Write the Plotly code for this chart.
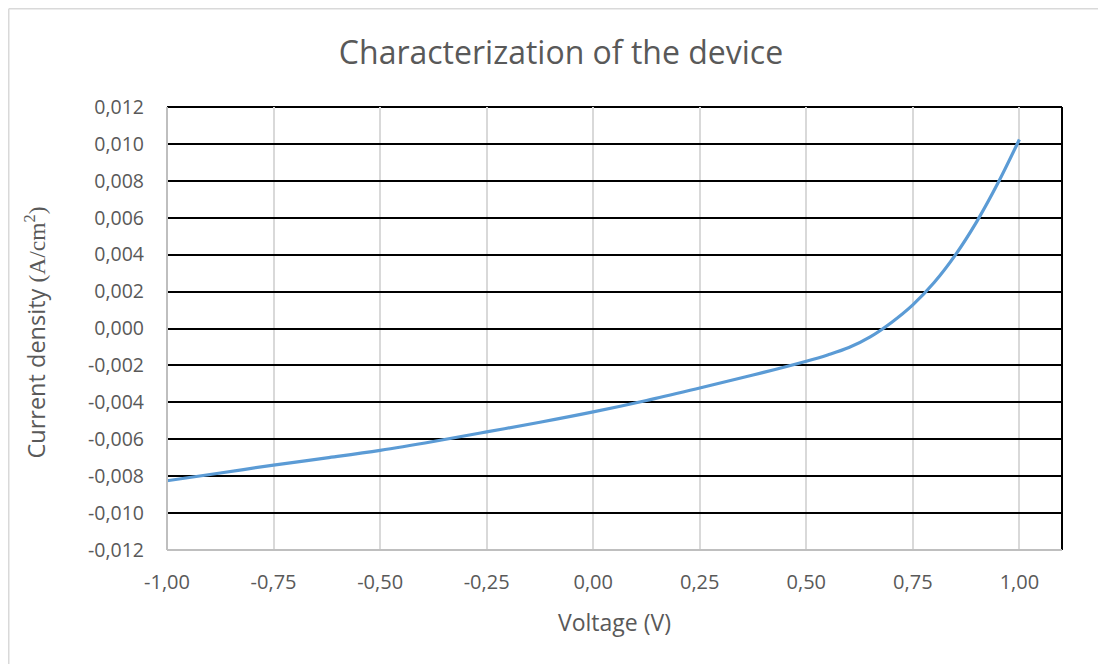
import plotly.graph_objects as go

voltage = [-1.00, -0.875, -0.75, -0.625, -0.50, -0.375, -0.25, -0.125,
           0.00, 0.125, 0.25, 0.375, 0.50, 0.55, 0.60, 0.65, 0.70, 0.75,
           0.80, 0.85, 0.90, 0.95, 1.00]
current_density = [-0.00825, -0.00783, -0.0074, -0.00701, -0.0066, -0.00612, -0.0056, -0.00508,
                   -0.00452, -0.0039, -0.00322, -0.00252, -0.00177, -0.00143, -0.00103, -0.00045, 0.00033, 0.00128,
                   0.00249, 0.00399, 0.00579, 0.00789, 0.01024]

x_tick_vals = [-1.0, -0.75, -0.5, -0.25, 0.0, 0.25, 0.5, 0.75, 1.0]
x_tick_text = ["-1,00", "-0,75", "-0,50", "-0,25", "0,00", "0,25", "0,50", "0,75", "1,00"]
y_tick_vals = [-0.012, -0.010, -0.008, -0.006, -0.004, -0.002, 0.0, 0.002, 0.004, 0.006, 0.008, 0.010, 0.012]
y_tick_text = ["-0,012", "-0,010", "-0,008", "-0,006", "-0,004", "-0,002", "0,000",
               "0,002", "0,004", "0,006", "0,008", "0,010", "0,012"]

title_text = "Characterization of the device"
x_title = "Voltage (V)"
y_title = ('Current density <span style="font-family:\'Liberation Serif\', serif">(A/cm<sup>2</sup>)</span>')

TXT = "#595959"
GRID_V = "#d9d9d9"

# figure sits inside an 8px page margin
W, H = 1098, 656
ML, MR, MT, MB = 159, 44, 99, 114
PW, PH = W - ML - MR, H - MT - MB

fig = go.Figure()
fig.add_trace(go.Scatter(
    x=voltage, y=current_density, mode="lines",
    line=dict(color="#5b9bd5", width=3.2, shape="spline", smoothing=1.0),
    showlegend=False, hoverinfo="x+y",
))

fig.update_layout(
    width=W, height=H,
    margin=dict(l=ML, r=MR, t=MT, b=MB),
    paper_bgcolor="white", plot_bgcolor="white",
    title=dict(text=title_text, x=553 / W, xref="container", xanchor="center",
               y=1 - 45 / H, yref="container", yanchor="middle",
               font=dict(family="Open Sans, sans-serif", size=32, color=TXT)),
    font=dict(family="Open Sans, sans-serif", color=TXT),
    xaxis=dict(
        range=[-1.0, 1.1], tickvals=x_tick_vals, ticktext=x_tick_text,
        showgrid=True, gridcolor=GRID_V, gridwidth=2,
        zeroline=False, showline=False, ticks="",
        tickfont=dict(family="Open Sans, sans-serif", size=20, color=TXT),
        ticklabelstandoff=18,
    ),
    yaxis=dict(
        range=[-0.012, 0.012], tickvals=y_tick_vals, ticktext=y_tick_text,
        showgrid=True, gridcolor="black", gridwidth=2,
        zeroline=False, showline=False, ticks="",
        tickfont=dict(family="Open Sans, sans-serif", size=19.5, color=TXT),
        ticklabelstandoff=22,
    ),
    annotations=[
        dict(text=x_title, xref="paper", yref="paper", x=0.5, y=0, yanchor="middle",
             xanchor="center", yshift=-72, showarrow=False,
             font=dict(family="Open Sans, sans-serif", size=23, color=TXT)),
        dict(text=y_title, xref="paper", yref="paper", x=0, y=0.5, xanchor="center",
             yanchor="middle", xshift=-(ML - 27), yshift=-4, textangle=-90, showarrow=False,
             font=dict(family="Open Sans, sans-serif", size=23.5, color=TXT)),
    ],
    shapes=[
        # plot frame: gray left/bottom, black top/right
        dict(type="line", xref="paper", yref="paper", x0=0, x1=0, y0=0, y1=1,
             line=dict(color="#bfbfbf", width=2), layer="above"),
        dict(type="line", xref="paper", yref="paper", x0=0, x1=1, y0=0, y1=0,
             line=dict(color="#bfbfbf", width=2), layer="above"),
        dict(type="line", xref="paper", yref="paper", x0=0, x1=1, y0=1, y1=1,
             line=dict(color="black", width=2), layer="below"),
        dict(type="line", xref="paper", yref="paper", x0=1, x1=1, y0=0, y1=1,
             line=dict(color="black", width=2), layer="below"),
        # outer chart border (top and left)
        dict(type="line", xref="paper", yref="paper",
             x0=(0.75 - ML) / PW, x1=(W - ML) / PW, y0=1 + (MT - 0.75) / PH, y1=1 + (MT - 0.75) / PH,
             line=dict(color="#d9d9d9", width=1.5)),
        dict(type="line", xref="paper", yref="paper",
             x0=(0.75 - ML) / PW, x1=(0.75 - ML) / PW, y0=1 + (MT - 0.75) / PH, y1=-MB / PH,
             line=dict(color="#d9d9d9", width=1.5)),
    ],
)

fig.write_html("out.html")
